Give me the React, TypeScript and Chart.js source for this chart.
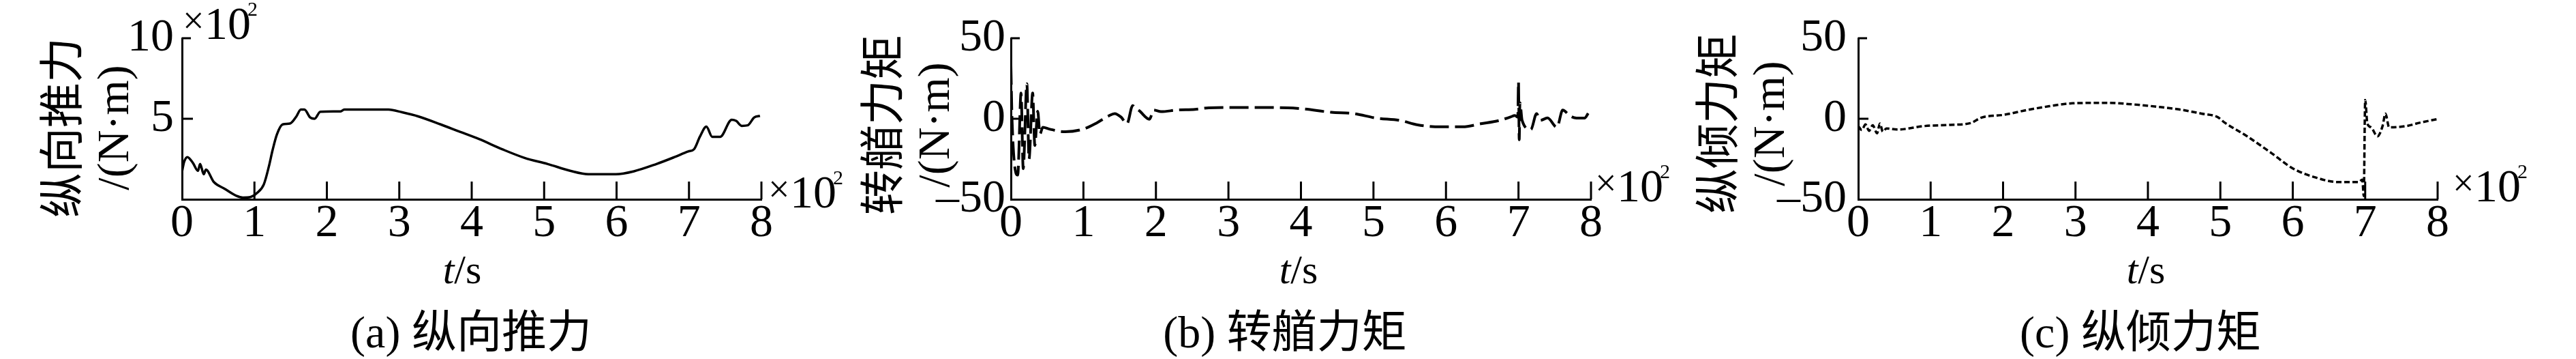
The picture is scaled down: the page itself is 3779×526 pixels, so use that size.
import React, { useEffect, useRef } from "react";
import { Chart, registerables } from "chart.js";

Chart.register(...registerables);

// ---------- data (time in units of 10^2 s) ----------
const xTickValues = [0, 1, 2, 3, 4, 5, 6, 7, 8];

// (a) longitudinal thrust, units of 10^2
const timeA = [0, 0.03, 0.075, 0.15, 0.22, 0.25, 0.30, 0.33, 0.44, 0.59, 0.75, 0.84, 0.95, 1.03, 1.13, 1.20, 1.25, 1.31, 1.39, 1.49, 1.58, 1.64, 1.69, 1.77, 1.83, 1.91, 2.19, 2.24, 2.85, 3.04, 3.26, 3.57, 3.82, 4.10, 4.42, 4.73, 5.05, 5.36, 5.61, 5.99, 6.24, 6.55, 6.80, 6.99, 7.07, 7.15, 7.24, 7.32, 7.43, 7.59, 7.65, 7.73, 7.81, 7.90, 7.98];
const thrustA = [1.70, 2.33, 2.62, 2.26, 1.77, 2.19, 1.56, 1.84, 1.07, 0.65, 0.22, 0.11, 0.15, 0.37, 0.93, 2.05, 3.04, 4.02, 4.65, 4.70, 5.15, 5.57, 5.57, 5.08, 5.00, 5.43, 5.46, 5.57, 5.57, 5.40, 5.15, 4.65, 4.22, 3.74, 3.11, 2.57, 2.19, 1.77, 1.56, 1.56, 1.74, 2.19, 2.62, 2.97, 3.11, 3.88, 4.51, 3.88, 3.88, 4.94, 4.87, 4.56, 4.59, 5.08, 5.18];

// (b) yaw moment
const timeB = [0, 0.016, 0.094, 0.14, 0.17, 0.22, 0.25, 0.30, 0.33, 0.37, 0.40, 0.44, 0.53, 0.75, 1.00, 1.19, 1.35, 1.43, 1.52, 1.60, 1.68, 1.72, 1.77, 1.91, 1.97, 2.07, 2.29, 2.54, 2.73, 3.30, 3.82, 4.04, 4.42, 4.73, 5.04, 5.36, 5.61, 5.92, 6.23, 6.48, 6.74, 6.89, 6.95, 6.99, 7.00, 7.01, 7.02, 7.05, 7.17, 7.25, 7.30, 7.40, 7.53, 7.61, 7.71, 7.80, 7.91, 7.97];
const yawB = [33, -1, -35, 16, -31, 21.7, -25, 16, -16.6, 4.7, -9.5, -5.3, -6.4, -8.1, -6.4, -2.4, 1.8, 3.2, 1.0, -3.1, 8.2, 6.5, 5.0, -0.3, 5.4, 4.4, 5.4, 5.8, 6.8, 7.0, 6.8, 6.1, 4.0, 3.2, 0.4, -1.0, -3.8, -5.0, -5.0, -3.1, -1.0, 1.1, 2.0, 1.0, 23, -13, 10, -1, -6.7, 3.2, -1, 0.5, -5.3, 5.4, 1.8, 0.4, 0.4, 4.0];

// (c) pitch moment
const timeC = [0, 0.05, 0.10, 0.15, 0.20, 0.26, 0.30, 0.34, 0.39, 0.54, 0.92, 1.27, 1.55, 1.70, 2.02, 2.33, 2.64, 2.96, 3.43, 3.80, 4.12, 4.43, 4.74, 4.96, 5.06, 5.37, 5.69, 6.00, 6.31, 6.63, 6.91, 6.96, 6.98, 7.00, 7.03, 7.08, 7.17, 7.24, 7.28, 7.33, 7.57, 7.76, 7.99];
const pitchC = [-4.5, -7, -3.5, -7.5, -4, -9, -3, -8, -6, -6.7, -4.5, -3.8, -2.7, 0.7, 2.5, 5.4, 7.8, 9.6, 9.9, 8.9, 7.5, 5.8, 3.2, 1.1, -2.4, -10.9, -20.8, -30.8, -36.4, -39.3, -39.3, -37.8, -48, 11.7, -3, -5.3, -10.9, -4.5, 3.2, -5.3, -4.5, -2.4, -0.3];

const yTicksA = [5, 10];
const yTicksBC = [-50, 0, 50];

const yTitleA = ["纵向推力", "/(N·m)"];
const yTitleB = ["转艏力矩", "/(N·m)"];
const yTitleC = ["纵倾力矩", "/(N·m)"];
const captionA = "(a) 纵向推力";
const captionB = "(b) 转艏力矩";
const captionC = "(c) 纵倾力矩";

// ---------- layout ----------
const SERIF = '"Liberation Serif", "Times New Roman", "Noto Sans CJK SC", serif';
const H = 526;
const PLOT_TOP = 56;
const PLOT_BOTTOM = 292;

type Panel = {
  t: number[]; v: number[]; yMin: number; yMax: number; yTicks: number[];
  canvasLeft: number; canvasWidth: number; plotLeft: number; plotRight: number;
  yPad: number; lineWidth: number; dash: number[];
  yTitle: string[]; titleCols: number[]; titleY: number;
  tsX: number; capX: number; caption: string;
  xMul: { x: number; base: number }; topMul?: { x: number; base: number };
  midTickLen: number;
};

const PANELS: Panel[] = [
  {
    t: timeA, v: thrustA, yMin: 0, yMax: 10, yTicks: yTicksA,
    canvasLeft: 0, canvasWidth: 1245, plotLeft: 267, plotRight: 1117,
    yPad: 12, lineWidth: 3.5, dash: [],
    yTitle: yTitleA, titleCols: [97, 171], titleY: 187,
    tsX: 678, capX: 691, caption: captionA,
    xMul: { x: 1129, base: 304 }, topMul: { x: 270, base: 57 }, midTickLen: 16,
  },
  {
    t: timeB, v: yawB, yMin: -50, yMax: 50, yTicks: yTicksBC,
    canvasLeft: 1245, canvasWidth: 1225, plotLeft: 1483, plotRight: 2334,
    yPad: 8, lineWidth: 4, dash: [28, 9],
    yTitle: yTitleB, titleCols: [1301, 1375], titleY: 183,
    tsX: 1905, capX: 1885, caption: captionB,
    xMul: { x: 2342, base: 295 }, midTickLen: 15,
  },
  {
    t: timeC, v: pitchC, yMin: -50, yMax: 50, yTicks: yTicksBC,
    canvasLeft: 2470, canvasWidth: 1309, plotLeft: 2726, plotRight: 3576,
    yPad: 17, lineWidth: 3.5, dash: [8, 4],
    yTitle: yTitleC, titleCols: [2526, 2600], titleY: 181,
    tsX: 3148, capX: 3140, caption: captionC,
    xMul: { x: 3600, base: 295 }, midTickLen: 15,
  },
];

function drawMul(ctx: CanvasRenderingContext2D, x: number, base: number) {
  ctx.textAlign = "left";
  ctx.textBaseline = "middle";
  ctx.font = `56px ${SERIF}`;
  ctx.fillText("×", x - 2, base - 23);
  ctx.textBaseline = "alphabetic";
  ctx.font = `68px ${SERIF}`;
  ctx.fillText("10", x + 30, base);
  ctx.font = `30px ${SERIF}`;
  ctx.fillText("2", x + 93, base - 34);
}

function decorPlugin(p: Panel) {
  const L = p.canvasLeft;
  return {
    id: "decor",
    afterDraw(chart: any) {
      const ctx: CanvasRenderingContext2D = chart.ctx;
      const xs = chart.scales.x;
      const ys = chart.scales.y;
      const { left, bottom } = chart.chartArea;
      ctx.save();
      ctx.strokeStyle = "#000";
      ctx.fillStyle = "#000";
      ctx.lineWidth = 3;
      ctx.setLineDash([]);
      ctx.beginPath();
      for (const v of xTickValues) {
        if (v === 0) continue;
        const px = xs.getPixelForValue(v);
        ctx.moveTo(px, bottom);
        ctx.lineTo(px, bottom - 26);
      }
      const topPx = ys.getPixelForValue(p.yMax);
      ctx.moveTo(left, topPx);
      ctx.lineTo(left + 13, topPx);
      for (const v of p.yTicks) {
        if (v === p.yMax || v === p.yMin) continue;
        const py = ys.getPixelForValue(v);
        ctx.moveTo(left, py);
        ctx.lineTo(left + p.midTickLen, py);
      }
      ctx.stroke();

      // multipliers
      drawMul(ctx, p.xMul.x - L, p.xMul.base);
      if (p.topMul) drawMul(ctx, p.topMul.x - L, p.topMul.base);

      // y-axis title (rotated)
      ctx.font = `66px ${SERIF}`;
      ctx.textAlign = "center";
      ctx.textBaseline = "middle";
      p.yTitle.forEach((line, i) => {
        ctx.save();
        ctx.translate(p.titleCols[i] - L, p.titleY);
        ctx.rotate(-Math.PI / 2);
        ctx.fillText(line, 0, 0);
        ctx.restore();
      });

      // x-axis title t/s
      ctx.textAlign = "left";
      ctx.textBaseline = "alphabetic";
      ctx.font = `italic 60px ${SERIF}`;
      const wT = ctx.measureText("t").width;
      ctx.font = `60px ${SERIF}`;
      const wS = ctx.measureText("/s").width;
      const sx = p.tsX - L - (wT + wS) / 2;
      ctx.font = `italic 60px ${SERIF}`;
      ctx.fillText("t", sx, 415);
      ctx.font = `60px ${SERIF}`;
      ctx.fillText("/s", sx + wT, 415);

      // caption
      ctx.font = `66px ${SERIF}`;
      ctx.textAlign = "center";
      ctx.textBaseline = "middle";
      ctx.fillText(p.caption, p.capX - L, 492);
      ctx.restore();
    },
  };
}

function makeChart(canvas: HTMLCanvasElement, p: Panel) {
  const tickFont = { family: SERIF, size: 68, lineHeight: 1 };
  return new Chart(canvas, {
    type: "line",
    data: {
      datasets: [
        {
          data: p.t.map((x, i) => ({ x, y: p.v[i] })),
          borderColor: "#000",
          borderWidth: p.lineWidth,
          borderDash: p.dash,
          borderJoinStyle: "round",
          pointRadius: 0,
          fill: false,
          cubicInterpolationMode: "monotone",
        } as any,
      ],
    },
    options: {
      responsive: false,
      animation: false,
      devicePixelRatio: 1,
      events: [],
      layout: {
        padding: { left: 0, top: PLOT_TOP, right: p.canvasWidth - (p.plotRight - p.canvasLeft), bottom: 0 },
      },
      plugins: { legend: { display: false }, tooltip: { enabled: false }, title: { display: false } },
      scales: {
        x: {
          type: "linear",
          min: 0,
          max: 8,
          afterBuildTicks: (s: any) => {
            s.ticks = xTickValues.map((v) => ({ value: v }));
          },
          afterFit: (s: any) => {
            s.height = H - PLOT_BOTTOM;
          },
          grid: { display: false, drawTicks: false },
          border: { display: true, color: "#000", width: 3 },
          ticks: {
            color: "#000",
            font: tickFont,
            padding: 2,
            autoSkip: false,
            maxRotation: 0,
            minRotation: 0,
            callback: (v: any) => String(v),
          },
        },
        y: {
          type: "linear",
          min: p.yMin,
          max: p.yMax,
          afterBuildTicks: (s: any) => {
            s.ticks = p.yTicks.map((v) => ({ value: v }));
          },
          afterFit: (s: any) => {
            s.width = p.plotLeft - p.canvasLeft;
          },
          grid: { display: false, drawTicks: false },
          border: { display: true, color: "#000", width: 3 },
          ticks: {
            color: "#000",
            font: tickFont,
            padding: p.yPad,
            autoSkip: false,
            callback: (v: any) => (v < 0 ? "–" + Math.abs(v) : String(v)),
          },
        },
      },
    } as any,
    plugins: [decorPlugin(p)],
  });
}

export default function App() {
  const r0 = useRef<HTMLCanvasElement>(null);
  const r1 = useRef<HTMLCanvasElement>(null);
  const r2 = useRef<HTMLCanvasElement>(null);
  const refs = [r0, r1, r2];

  useEffect(() => {
    const charts = PANELS.map((p, i) => makeChart(refs[i].current as HTMLCanvasElement, p));
    return () => charts.forEach((c) => c.destroy());
  }, []);

  return (
    <div style={{ position: "fixed", left: 0, top: 0, width: 3779, height: H, background: "#fff", overflow: "hidden" }}>
      {PANELS.map((p, i) => (
        <canvas
          key={i}
          ref={refs[i]}
          width={p.canvasWidth}
          height={H}
          style={{ position: "absolute", left: p.canvasLeft, top: 0, width: p.canvasWidth, height: H }}
        />
      ))}
    </div>
  );
}
